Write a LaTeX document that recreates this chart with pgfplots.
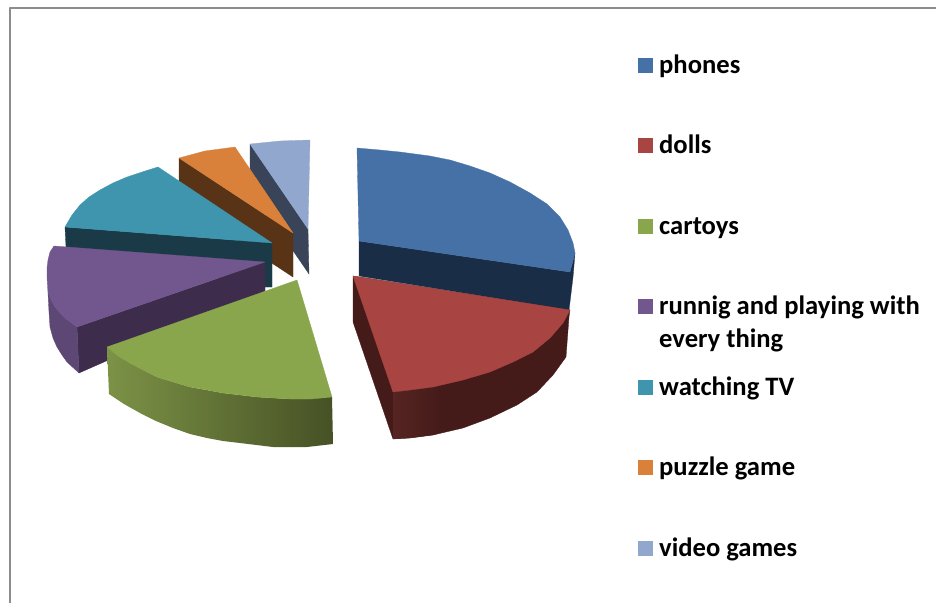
\documentclass[border=0pt]{standalone}
\usepackage{pgfplots}
\pgfplotsset{compat=1.18}
\usepackage{fontspec}
\setmainfont{Carlito}
\definecolor{phonesTop}{HTML}{4571A6}
\definecolor{phonesSide}{HTML}{1A2D47}
\definecolor{dollsTop}{HTML}{A84442}
\definecolor{dollsSide}{HTML}{451B19}
\definecolor{dollsSideL}{HTML}{562422}
\definecolor{carTop}{HTML}{8AA64C}
\definecolor{carSideL}{HTML}{7C9246}
\definecolor{carSideR}{HTML}{465125}
\definecolor{runTop}{HTML}{71578D}
\definecolor{runOuter}{HTML}{5D4775}
\definecolor{runFront}{HTML}{3D2C4C}
\definecolor{tvTop}{HTML}{4095AE}
\definecolor{tvSide}{HTML}{193A46}
\definecolor{puzzleTop}{HTML}{D9813B}
\definecolor{puzzleSide}{HTML}{583316}
\definecolor{videoTop}{HTML}{91A7CE}
\definecolor{videoSide}{HTML}{3A4459}
\definecolor{frameGray}{HTML}{8C8C8C}
\newcommand{\legendtext}[3]{\node[anchor=base west,inner sep=0pt,font=\fontsize{26.6}{30}\selectfont\bfseries] at (axis cs:#1,#2) {#3};}
\newcommand{\swatch}[2]{\fill[#2] (axis cs:638,#1) rectangle (axis cs:653,#1+15);}
\begin{document}
\begin{tikzpicture}
\begin{axis}[
  hide axis, scale only axis, width=936pt, height=603pt,
  xmin=0, xmax=936, ymin=0, ymax=603, y dir=reverse,
  clip=true,
  every axis plot/.append style={mark=none, line width=0.3pt, line join=round},
]
% page-sized white background, then the outer frame of the chart area
\addplot[fill=white,draw=none] coordinates {(0,0) (936,0) (936,603) (0,603)} --cycle;
\addplot[frameGray, line width=2pt] coordinates {(9.5,603) (9.5,8) (936,8)};

% video games
\addplot[fill=videoSide,draw=videoSide] coordinates {(250,144) (308,229) (309,274) (250,188)} --cycle;
\addplot[fill=videoTop,draw=videoTop] coordinates {(308,229) (250,144) (280,141) (310,140)} --cycle;
% puzzle game
\addplot[fill=puzzleSide,draw=puzzleSide] coordinates {(179,158) (293,233) (293,277) (179,202)} --cycle;
\addplot[fill=puzzleTop,draw=puzzleTop] coordinates {(293,233) (179,158) (205,151) (235,147)} --cycle;
% watching TV
\addplot[fill=tvSide,draw=tvSide] coordinates {(65,227) (272,243) (272,287) (265,287) (66,247)} --cycle;
\addplot[fill=tvTop,draw=tvTop] coordinates {(272,243) (65,227) (72,215) (80,205) (89,197) (100,190) (113,183) (127,177) (142,172) (158,167)} --cycle;
% running and playing
\addplot[fill=runFront,draw=runFront] coordinates {(77,327) (265,262) (265,291) (79,373)} --cycle;
\addplot[fill=runOuter,draw=runOuter] coordinates {(48,293) (49,312) (50,327) (53,338) (57,347) (62,355) (67,362) (79,373) (77,327) (65,318) (55,307)} --cycle;
\addplot[fill=runTop,draw=runTop] coordinates {(265,262) (54,246) (50,252) (48,260) (47,268) (47,277) (48,293) (51,300) (55,307) (60,313) (65,318) (77,327)} --cycle;
% cartoys
\addplot[left color=carSideL,right color=carSideR,draw=none] coordinates {(107,347) (109,394) (124,404) (140,413) (156,421) (173,428) (190,434) (207,438) (223,441) (240,443) (273,447) (307,447) (333,444) (332,397) (290,399) (257,397) (223,393) (190,387) (157,377) (130,363)} --cycle;
\addplot[fill=carTop,draw=carTop] coordinates {(297,280) (107,347) (118,356) (130,363) (143,370) (157,377) (173,382) (190,387) (207,390) (223,393) (240,395) (257,397) (290,399) (311,399) (332,397)} --cycle;
% phones
\addplot[fill=phonesSide,draw=phonesSide] coordinates {(359,241) (570,272) (575,253) (573,277) (569,310) (359,276)} --cycle;
\addplot[fill=phonesTop,draw=phonesTop] coordinates {(357,148) (380,150) (400,152) (415,154) (430,156) (450,160) (470,166) (490,173) (510,182) (530,193) (547,204) (560,217) (568,230) (573,243) (575,253) (570,272) (359,241)} --cycle;
% dolls
\addplot[fill=dollsSide,draw=dollsSide] coordinates {(353,276) (353,322) (393,439) (410,438) (433,435) (463,428) (490,418) (517,405) (537,392) (553,375) (566,357) (569,317) (570,310)} --cycle;
\addplot[left color=dollsSideL,right color=dollsSide,draw=none] coordinates {(393,392) (393,439) (410,438) (433,435) (440,433) (440,386) (433,387) (410,390)} --cycle;
\addplot[fill=dollsTop,draw=dollsTop] coordinates {(353,276) (570,310) (563,323) (550,338) (533,352) (513,362) (490,372) (463,380) (433,387) (410,390) (393,392)} --cycle;

% legend
\swatch{58}{phonesTop}   \legendtext{659}{73}{phones}
\swatch{138}{dollsTop}   \legendtext{659}{153}{dolls}
\swatch{219}{carTop}     \legendtext{659}{234}{cartoys}
\swatch{299}{runTop}     \legendtext{659}{314}{runnig and playing with}
                         \legendtext{659}{347}{every thing}
\swatch{380}{tvTop}      \legendtext{659}{395}{watching TV}
\swatch{460}{puzzleTop}  \legendtext{659}{475}{puzzle game}
\swatch{541}{videoTop}   \legendtext{659}{556}{video games}
\end{axis}
\end{tikzpicture}
\end{document}
